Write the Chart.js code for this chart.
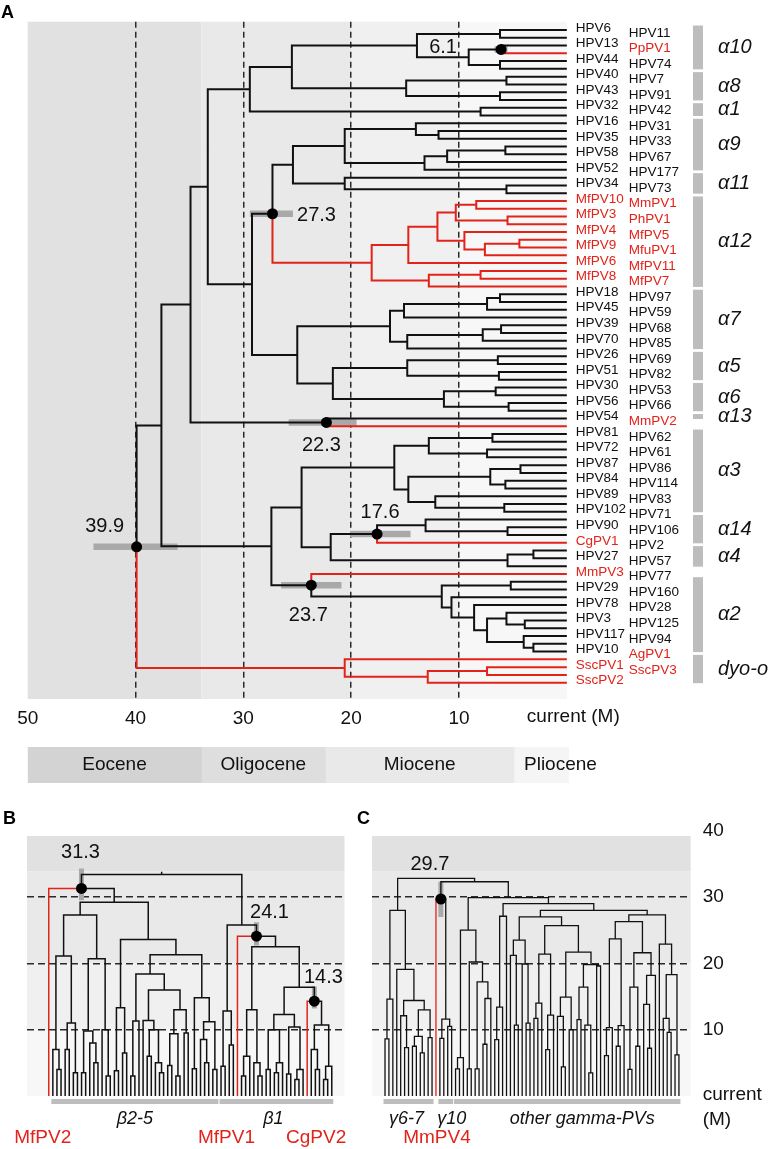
<!DOCTYPE html>
<html>
<head>
<meta charset="utf-8">
<title>Papillomavirus divergence times</title>
<script src="https://cdn.jsdelivr.net/npm/chart.js@4.4.0/dist/chart.umd.min.js"></script>
<style>
  body { margin: 0; background: #fff; }
  #wrap { position: relative; width: 770px; height: 1149px; }
  canvas { position: absolute; }
</style>
</head>
<body>
<div id="wrap">
  <canvas id="treeA" width="770" height="740" style="left:0;top:0"></canvas>
  <canvas id="epochs" width="770" height="50" style="left:0;top:740px"></canvas>
  <canvas id="treeB" width="350" height="349" style="left:0;top:800px"></canvas>
  <canvas id="treeC" width="420" height="349" style="left:350px;top:800px"></canvas>
</div>
<script>
Chart.defaults.font.family = "'Liberation Sans', Arial, sans-serif";
Chart.defaults.color = '#111';

const RED = '#e2231a';

// trees: (child,child)age, '*' marks a dated node with a dot
const treeA = `
((((
((((HPV6,HPV11)6.2,((HPV13,PpPV1)*6.1,(HPV44,HPV74)6.2)9.1)13.9,((HPV40,HPV7)5.6,(HPV43,HPV91)6.2)14.9)25.5,(HPV32,HPV42)8.0)29.4,
(((((HPV16,(HPV31,HPV35)11.9)14.0,(((HPV33,HPV58)5.7,HPV67)11.1,HPV52)13.2)20.6,(HPV177,(HPV34,HPV73)5.6)20.6)25.4,
(((((MfPV10,MmPV1)8.4,(MfPV3,PhPV1)5.5)10.3,(MfPV4,((MfPV5,MfPV9)4.4,MfuPV1)7.6)9.5)12.0,MfPV6)14.7,((MfPV11,MfPV8)8.0,MfPV7)12.8)18.1)*27.3,
(((((HPV18,HPV97)6.2,HPV45)7.4,HPV59)15.1,(((HPV39,HPV68)6.1,HPV70)7.8,HPV85)14.8)16.4,
(((HPV26,HPV69)6.4,(HPV51,HPV82)6.3)14.8,((HPV30,HPV53)6.6,(HPV56,HPV66)5.4)11.4)21.7)25.0)29.2)33.3,
(HPV54,MmPV2)*22.3)34.9,
(((((HPV81,HPV62)6.9,(HPV72,HPV61)7.4)12.8,(((HPV87,HPV86)4.3,(HPV84,HPV114)5.7)7.1,(HPV89,(HPV83,HPV102)5.8)12.2)14.7)16.0,
(((HPV71,(HPV90,HPV106)5.5)13.1,CgPV1)*17.6,((HPV2,HPV27)3.1,HPV57)5.5)21.9)24.6,
(MmPV3,((HPV77,HPV29)5.2,(HPV160,(HPV78,((HPV28,(HPV3,HPV125)3.9)5.6,(HPV117,(HPV94,HPV10)3.1)4.0)7.4)8.6)10.7)11.6)*23.7)27.4)37.6,
(AgPV1,((SscPV1,SscPV3)7.4,SscPV2)12.9)20.6)*39.9`;

const treeB = `
((MfPV2,
((((t,(t,t)4.0)7.0,((t,t)7.0,(t,t)3.5)11.0)21.1,(((t,t)3.5,(t,(t,t)5.0)8.0)9.8,(t,(t,t)3.0)10.0)20.7)27.3,
(((t,t)3.8,(t,t)6.5)13.3,
((((t,t)3.0,t)11.3,((t,((t,t)6.0,(t,(t,t)3.5)5.0)10.0)11.4,(((t,t)4.6,(t,t)3.0)9.4,(t,t)9.5)13.0)16.0)18.4,
((t,t)4.1,((t,(t,t)5.0)8.5,(t,t)4.0)11.2)14.8)21.3)23.6)29.2)*31.3,
(((t,t)4.5,(t,t)7.7)12.8,
(MfPV1,((((t,t)3.0,t)6.0,(t,(t,t)3.0)5.0)13.0,
((((t,t)4.0,((t,t)3.5,t)5.0)10.0,((t,t)3.3,((t,t)2.5,t)4.0)10.4)12.3,
(CgPV2,((t,(t,t)4.0)7.0,((t,t)2.5,t)4.5)10.7)*14.3)16.4)22.5)*24.1)25.8)33.4`;

const treeC = `
(((((t,t)8.6,t)14.6,(t,((t,(t,t)7.3)12.1,(((t,t)7.5,(t,t)6.5)9.0,(t,t)8.8)13.0)14.4)19.1)28.0,
((MmPV4,((t,t)8.7,(t,t)10.5)11.6)*29.7,
((((t,t)4.1,t)5.8,((t,t)4.1,((t,t)4.1,((t,t)7.8,t)14.7)17.2)20.2)25.0,
((((t,t)8.5,t)13.4,t)27.1,
((((t,(t,t)10.7)21.2,(t,(t,t)11.0)19.9)23.5,
((((t,t)11.7,t)14.0,((t,t)7.0,t)12.2)21.4,(((t,(t,t)4.4)12.0,(t,t)10.0)14.9,(((t,t)11.5,(t,(t,t)3.5)10.7)16.4,(t,t)19.6)19.8)21.7)25.7)27.0,
(((((t,t)6.1,t)10.3,((t,t)7.5,t)10.6)23.7,(((t,t)4.0,(t,t)7.5)16.4,((t,(t,t)7.2)13.8,t)18.2)21.6)26.3,
(t,((t,(t,t)9.6)11.7,(t,t)6.2)18.3)22.9)27.3)28.0)29.0)29.9)32.3)32.8`;

const redTaxa = ['PpPV1', 'MfPV10', 'MmPV1', 'MfPV3', 'PhPV1', 'MfPV4', 'MfPV5', 'MfPV9', 'MfuPV1',
  'MfPV6', 'MfPV11', 'MfPV8', 'MfPV7', 'MmPV2', 'CgPV1', 'MmPV3', 'AgPV1', 'SscPV1', 'SscPV3', 'SscPV2',
  'MfPV2', 'MfPV1', 'CgPV2', 'MmPV4'];

const dotAgesA = [6.1, 27.3, 22.3, 39.9, 17.6, 23.7];
const hpdLowA = [5.5, 25.4, 19.5, 36.1, 14.5, 20.9];
const hpdHighA = [6.7, 29.4, 25.8, 43.9, 20.1, 26.5];
const dotAgesB = [31.3, 24.1, 14.3];
const hpdLowB = [29.5, 22.7, 13.2];
const hpdHighB = [34.3, 26.2, 16.5];
const dotAgesC = [29.7];
const hpdLowC = [27.0];
const hpdHighC = [32.3];

const cladeNamesA = ['α10', 'α8', 'α1', 'α9', 'α11', 'α12', 'α7', 'α5', 'α6', 'α13', 'α3', 'α14', 'α4', 'α2', 'dyo-o'];
const cladeFirstA = [0, 6, 10, 12, 19, 22, 34, 42, 46, 50, 52, 63, 67, 71, 81];
const cladeLastA = [5, 9, 11, 18, 21, 33, 41, 45, 49, 50, 62, 66, 69, 80, 84];
const cladeNamesB = ['β2-5', 'β1'];
const cladeFirstB = [1, 42];
const cladeLastB = [41, 69];
const cladeNamesC = ['γ6-7', 'γ10', 'other gamma-PVs'];
const cladeFirstC = [0, 14, 18];
const cladeLastC = [12, 17, 75];

const ageTicks = [50, 40, 30, 20, 10, 0];
const gridAgesA = [40, 30, 20, 10];
const gridAgesBC = [30, 20, 10];
const bandAges = [50, 33.9, 20, 10, 0];
const bandColors = ['#e1e1e1', '#e9e9e9', '#f0f0f0', '#f7f7f7'];

const epochNames = ['Eocene', 'Oligocene', 'Miocene', 'Pliocene'];
const epochStart = [50, 33.9, 22.4, 4.9];
const epochEnd = [33.9, 22.4, 4.9, -0.2];
const epochColors = ['#d3d3d3', '#dedede', '#e9e9e9', '#f5f5f5'];

function parseNewick(str) {
  const s = str.replace(/\s+/g, '');
  let i = 0;
  function read() {
    const n = { children: [], name: '', age: 0, dot: false };
    if (s[i] === '(') {
      i++;
      n.children.push(read());
      while (s[i] === ',') { i++; n.children.push(read()); }
      i++;
      if (s[i] === '*') { n.dot = true; i++; }
      let num = '';
      while (i < s.length && '0123456789.'.includes(s[i])) num += s[i++];
      n.age = parseFloat(num);
    } else {
      while (i < s.length && !',()'.includes(s[i])) n.name += s[i++];
    }
    return n;
  }
  return read();
}

function layoutTree(str) {
  const root = parseNewick(str);
  const tips = [], nodes = [];
  (function walk(n) {
    if (!n.children.length) {
      n.pos = tips.length;
      tips.push(n);
      n.red = redTaxa.includes(n.name);
    } else {
      n.children.forEach(walk);
      const c = n.children;
      n.pos = (c[0].pos + c[c.length - 1].pos) / 2;
      n.red = c.every(k => k.red);
    }
    nodes.push(n);
  })(root);
  return { root, tips, nodes };
}

function branchData(tree, red, swap, stem) {
  const P = (pos, age) => swap ? { x: pos, y: age } : { x: age, y: pos };
  const pts = [];
  tree.nodes.forEach(n => n.children.forEach(c => {
    if (c.red !== red) return;
    pts.push(P(n.pos, n.age), P(c.pos, n.age), P(c.pos, c.age), { x: null, y: null });
  }));
  if (stem && tree.root.red === red) {
    pts.push(P(tree.root.pos, tree.root.age), P(tree.root.pos, tree.root.age + stem));
  }
  return pts;
}

function treeDatasets(tree, dots, lows, highs, swap, w, hpdW, stem) {
  const P = (pos, age) => swap ? { x: pos, y: age } : { x: age, y: pos };
  const hpd = [], dotPts = [];
  dots.forEach((d, k) => {
    const n = tree.nodes.find(m => m.dot && m.age === d);
    hpd.push(P(n.pos, lows[k]), P(n.pos, highs[k]), { x: null, y: null });
    dotPts.push(P(n.pos, n.age));
  });
  const line = (data, color, width, order) => ({
    data, borderColor: color, borderWidth: width, showLine: true,
    pointRadius: 0, borderJoinStyle: 'miter', order
  });
  return [
    line(hpd, '#a9a9a9', hpdW, 3),
    line(branchData(tree, false, swap, stem), '#111', w, 2),
    line(branchData(tree, true, swap, stem), RED, w, 2),
    { data: dotPts, pointRadius: 5.5, pointBackgroundColor: '#000', pointBorderWidth: 0, showLine: false, order: 1 }
  ];
}

function nodeLabels(chart, ages, offsets) {
  const ctx = chart.ctx;
  const pts = chart.getDatasetMeta(3).data;
  ctx.save();
  ctx.font = "20px 'Liberation Sans', Arial, sans-serif";
  ctx.fillStyle = '#111';
  ctx.textAlign = 'center';
  ctx.textBaseline = 'middle';
  ages.forEach((a, k) => {
    ctx.fillText(a.toFixed(1), pts[k].x + offsets[k][0], pts[k].y + offsets[k][1]);
  });
  ctx.restore();
}

function letter(ctx, t, x, y) {
  ctx.save();
  ctx.font = "bold 18px 'Liberation Sans', Arial, sans-serif";
  ctx.fillStyle = '#000';
  ctx.textBaseline = 'alphabetic';
  ctx.fillText(t, x, y);
  ctx.restore();
}

const A = layoutTree(treeA);
const B = layoutTree(treeB);
const C = layoutTree(treeC);

const base = {
  responsive: false,
  animation: false,
  events: [],
  plugins: { legend: { display: false }, tooltip: { enabled: false } }
};

const gridColor = ages => c => (c.tick && ages.includes(c.tick.value)) ? '#2a2a2a' : 'rgba(0,0,0,0)';
const setTicks = vals => s => { s.ticks = vals.map(v => ({ value: v })); };

// ---------- panel A ----------
const panelA = {
  id: 'panelA',
  beforeDraw(chart) {
    const { ctx, chartArea: a, scales: { x } } = chart;
    ctx.save();
    for (let k = 0; k < bandColors.length; k++) {
      const p1 = x.getPixelForValue(bandAges[k]), p2 = x.getPixelForValue(bandAges[k + 1]);
      const l = Math.max(a.left, Math.min(p1, p2)), r = Math.min(a.right, Math.max(p1, p2));
      ctx.fillStyle = bandColors[k];
      ctx.fillRect(l, a.top, r - l, a.bottom - a.top);
    }
    ctx.restore();
  },
  afterDatasetsDraw(chart) {
    nodeLabels(chart, dotAgesA, [[-58, -2], [44, 1.5], [-5, 23], [-32, -20], [3, -22], [-3, 30]]);
  },
  afterDraw(chart) {
    const { ctx, chartArea: a, scales: { x, y } } = chart;
    const x0 = x.getPixelForValue(0);
    ctx.save();
    ctx.font = "13.5px 'Liberation Sans', Arial, sans-serif";
    ctx.textBaseline = 'middle';
    ctx.textAlign = 'left';
    A.tips.forEach((t, i) => {
      ctx.fillStyle = t.red ? RED : '#111';
      const left = i % 2 === 0;
      ctx.fillText(t.name, x0 + (left ? 9 : 62), y.getPixelForValue(i) - (left ? 2 : 5));
    });
    ctx.font = "italic 20px 'Liberation Sans', Arial, sans-serif";
    cladeNamesA.forEach((n, k) => {
      const t = y.getPixelForValue(cladeFirstA[k]) - 4.5;
      const b = y.getPixelForValue(cladeLastA[k]) + 0.5;
      ctx.fillStyle = '#bdbdbd';
      ctx.fillRect(a.right + 124, t, 10, b - t);
      ctx.fillStyle = '#111';
      ctx.fillText(n, a.right + 149, (t + b) / 2);
    });
    ctx.font = "19px 'Liberation Sans', Arial, sans-serif";
    ctx.fillText('current (M)', x0 - 40, a.bottom + 18);
    ctx.restore();
    letter(ctx, 'A', 1, 18);
  }
};

new Chart(document.getElementById('treeA'), {
  type: 'scatter',
  data: { datasets: treeDatasets(A, dotAgesA, hpdLowA, hpdHighA, false, 2, 6.5, 0) },
  options: {
    ...base,
    layout: { padding: { left: 27.7, right: 201, top: 21.7, bottom: 5 } },
    scales: {
      x: {
        type: 'linear', reverse: true, min: -0.2, max: 50,
        afterBuildTicks: setTicks(ageTicks),
        afterFit: s => { s.height = 36; },
        grid: { color: gridColor(gridAgesA), lineWidth: 1.5, drawTicks: false, borderDash: [6, 4] },
        border: { display: false, dash: [6, 4] },
        ticks: { padding: 8, autoSkip: false, maxRotation: 0, font: { size: 19 }, color: '#111',
          callback: v => v === 0 ? '' : String(v) }
      },
      y: { type: 'linear', reverse: true, min: -1.07, max: 86.1, display: false }
    }
  },
  plugins: [panelA]
});

// ---------- epoch bar ----------
const epochLabels = {
  id: 'epochLabels',
  afterDatasetsDraw(chart) {
    const ctx = chart.ctx;
    ctx.save();
    ctx.font = "19px 'Liberation Sans', Arial, sans-serif";
    ctx.fillStyle = '#111';
    ctx.textBaseline = 'middle';
    epochNames.forEach((n, k) => {
      const el = chart.getDatasetMeta(k).data[0];
      const l = Math.min(el.x, el.base), r = Math.max(el.x, el.base);
      if (ctx.measureText(n).width + 16 > r - l) {
        ctx.textAlign = 'left';
        ctx.fillText(n, l + 10, el.y);
      } else {
        ctx.textAlign = 'center';
        ctx.fillText(n, (l + r) / 2, el.y);
      }
    });
    ctx.restore();
  }
};

new Chart(document.getElementById('epochs'), {
  type: 'bar',
  data: {
    labels: [''],
    datasets: epochNames.map((n, k) => ({
      label: n, data: [[epochStart[k], epochEnd[k]]], backgroundColor: epochColors[k],
      grouped: false, barPercentage: 1, categoryPercentage: 1, borderWidth: 0
    }))
  },
  options: {
    ...base,
    indexAxis: 'y',
    layout: { padding: { left: 27.7, right: 201, top: 7, bottom: 7 } },
    scales: {
      x: { type: 'linear', reverse: true, min: -0.2, max: 50, display: false },
      y: { display: false }
    }
  },
  plugins: [epochLabels]
});

// ---------- panels B and C ----------
function verticalPanel(tree, names, first, last, labelDx, redNames, redDx, ages, offsets, mark, markX, isC) {
  return {
    id: 'panel' + mark,
    beforeDraw(chart) {
      const { ctx, chartArea: a, scales: { y } } = chart;
      ctx.save();
      for (let k = 0; k < bandColors.length; k++) {
        const p1 = y.getPixelForValue(bandAges[k]), p2 = y.getPixelForValue(bandAges[k + 1]);
        const t = Math.max(a.top, Math.min(p1, p2)), b = Math.min(a.bottom, Math.max(p1, p2));
        if (b <= t) continue;
        ctx.fillStyle = bandColors[k];
        ctx.fillRect(a.left, t, a.right - a.left, b - t);
      }
      ctx.restore();
    },
    afterDatasetsDraw(chart) { nodeLabels(chart, ages, offsets); },
    afterDraw(chart) {
      const { ctx, chartArea: a, scales: { x } } = chart;
      ctx.save();
      ctx.textBaseline = 'middle';
      ctx.textAlign = 'center';
      ctx.font = "italic 18px 'Liberation Sans', Arial, sans-serif";
      names.forEach((n, k) => {
        const l = x.getPixelForValue(first[k]) - 1.5, r = x.getPixelForValue(last[k]) + 1.5;
        ctx.fillStyle = '#bdbdbd';
        ctx.fillRect(l, a.bottom + 3, r - l, 5);
        ctx.fillStyle = '#111';
        ctx.fillText(n, (l + r) / 2 + labelDx[k], a.bottom + 23);
      });
      ctx.font = "19px 'Liberation Sans', Arial, sans-serif";
      ctx.fillStyle = RED;
      redNames.forEach((n, k) => {
        const t = tree.tips.find(m => m.name === n);
        ctx.fillText(n, x.getPixelForValue(t.pos) + redDx[k], a.bottom + 42);
      });
      if (isC) {
        ctx.fillStyle = '#111';
        ctx.textAlign = 'left';
        ctx.fillText('current', a.right + 12, a.bottom - 1);
        ctx.fillText('(M)', a.right + 12, a.bottom + 23.5);
      }
      ctx.restore();
      letter(ctx, mark, markX, 24);
    }
  };
}

new Chart(document.getElementById('treeB'), {
  type: 'scatter',
  data: { datasets: treeDatasets(B, dotAgesB, hpdLowB, hpdHighB, true, 1.5, 5, 0.4) },
  options: {
    ...base,
    layout: { padding: { left: 27, right: 3, top: 36, bottom: 53 } },
    scales: {
      x: { type: 'linear', min: -5.3, max: 72.1, display: false },
      y: {
        type: 'linear', min: 0, max: 39.2,
        afterBuildTicks: setTicks([0, 10, 20, 30]),
        afterFit: s => { s.width = 0; },
        grid: { color: gridColor(gridAgesBC), lineWidth: 1.6, drawTicks: false, borderDash: [7, 4] },
        border: { display: false, dash: [7, 4] },
        ticks: { display: false }
      }
    }
  },
  plugins: [verticalPanel(B, cladeNamesB, cladeFirstB, cladeLastB, [0, -3],
    ['MfPV2', 'MfPV1', 'CgPV2'], [-6, -11, 9], dotAgesB, [[-1, -36], [13, -24], [9, -24]], 'B', 3, false)]
});

new Chart(document.getElementById('treeC'), {
  type: 'scatter',
  data: { datasets: treeDatasets(C, dotAgesC, hpdLowC, hpdHighC, true, 1.3, 5, 0.4) },
  options: {
    ...base,
    layout: { padding: { left: 22, right: 0, top: 36, bottom: 53 } },
    scales: {
      x: { type: 'linear', min: -3.32, max: 78.0, display: false },
      y: {
        type: 'linear', position: 'right', min: 0, max: 39.2,
        afterBuildTicks: setTicks([0, 10, 20, 30, 40]),
        afterFit: s => { s.width = 79.3; },
        grid: { color: gridColor(gridAgesBC), lineWidth: 1.6, drawTicks: false, borderDash: [7, 4] },
        border: { display: false, dash: [7, 4] },
        ticks: { padding: 12, autoSkip: false, font: { size: 19 }, color: '#111',
          callback: v => v === 0 ? '' : String(v) }
      }
    }
  },
  plugins: [verticalPanel(C, cladeNamesC, cladeFirstC, cladeLastC, [-2, 6, 15],
    ['MmPV4'], [1], dotAgesC, [[-11, -35]], 'C', 7, true)]
});
</script>
</body>
</html>
